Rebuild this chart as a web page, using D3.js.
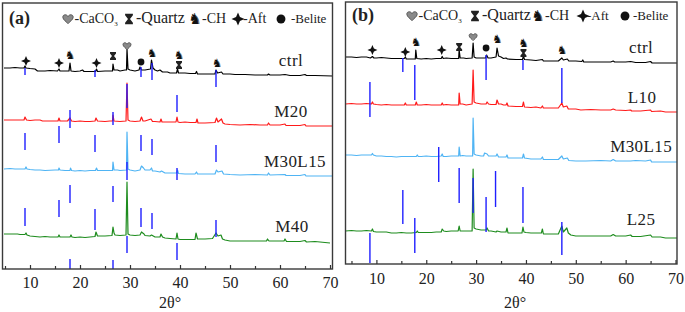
<!DOCTYPE html>
<html>
<head>
<meta charset="utf-8">
<script src="https://cdn.jsdelivr.net/npm/d3@7"></script>
<style>
body { margin: 0; background: #fff; }
svg { display: block; font-family: "Liberation Serif", "Times New Roman", serif; }
</style>
</head>
<body>
<div id="chart"></div>
<script>
// ---- data: [2theta, intensity above series offset (a.u.)] ----
const ctrlA = [[4.8,8],[6,8],[7,8.5],[8,8],[8.8,8],[9,10],[9.2,8],[10,7.5],[11,7],[11.5,5],[13,5],[14,5.5],[15.5,5],[15.8,7],[16,5],[17.8,5],[18,13],[18.2,5],[19,4.5],[20,5],[20.5,6],[20.8,4.5],[22,4.5],[23.1,4.5],[23.3,7],[23.5,4.5],[25,5],[26.5,5],[26.6,12],[26.8,6],[27.5,6],[28,5],[29,6],[29.3,6],[29.4,27],[29.6,7],[30,6],[31,5],[31.8,6],[32,9],[32.3,6],[33,6],[34.1,7],[34.3,16],[34.6,8],[35,6],[35.5,5],[36,6],[36.5,4],[37.5,4],[38,3],[39.3,3],[39.5,7],[39.7,3],[41,3],[42,2.5],[43.1,2.5],[43.3,4.5],[43.5,2],[45,2],[47,2],[47.2,6],[47.5,3],[48.3,4],[48.6,2],[50,2],[51,1.5],[53,1.5],[55,1],[57.5,1],[57.7,2],[58,1],[60,1],[61,1.5],[62,0.5],[64,0.5],[65,1.5],[65.3,0.5],[67,0.5],[70.5,0]];
const m20A = [[4.8,6],[7,6],[8.8,6],[9,9],[9.3,6],[10,5.5],[11,6],[12,6],[12.5,5],[15,5],[15.6,5],[15.8,8],[16,5],[17.5,5],[18,8],[18.3,5],[19,4.5],[20,5],[21,4.5],[22,4.5],[23,5],[23.2,8],[23.5,5],[25,4.5],[26,5],[26.5,5],[26.6,11],[26.8,5],[28,4.5],[29.2,5],[29.4,43],[29.6,6],[30,5],[31,4.5],[32,5],[32.3,9],[32.6,5],[33,5],[34.2,7],[34.5,4.5],[35,4.5],[36,4],[36.2,7],[36.4,4],[38,4],[39.2,4],[39.4,9],[39.6,4],[40,3.5],[41,4],[42,3.5],[43.2,3.5],[43.4,7],[43.6,3],[45,3],[47,3.5],[47.3,8],[47.6,4],[48.3,7],[48.6,3],[49,2],[50,1.5],[52,1],[54,1.5],[56,1],[57.5,1],[57.7,3],[58,1],[60,1],[61,2],[61.2,0.5],[64,0.5],[65,1.5],[65.2,0],[70.5,0]];
const m30l15A = [[4.8,7],[6,7.5],[7,7],[9,7],[9.2,9],[9.4,7],[10,6.5],[11,6],[12,6],[13,5.5],[15,6],[15.7,6],[15.8,8],[16,6],[17,5.5],[18,5.5],[18.1,8],[18.3,5.5],[19,5],[20,5.5],[21,5],[22,5.5],[23.1,5.5],[23.3,8],[23.5,5.5],[25,5.5],[26.5,5.5],[26.6,14],[26.8,6],[27.5,6],[28,5.5],[29.3,6],[29.4,44],[29.6,7],[30,6],[31,5],[32,6],[32.3,10],[32.7,8],[33,6],[34,6],[34.3,8],[34.5,5],[35,5],[36,4],[36.3,5],[37,3],[39.3,3],[39.5,6],[39.7,2.5],[41,2],[43,2],[43.3,4],[43.5,2],[46,2],[47,2],[47.3,6],[47.6,4],[48.4,5],[48.7,2],[50,1.5],[52,1],[55,1.5],[57.5,1],[57.7,3],[58,1],[61,1.5],[61.2,0.5],[64,0.5],[65,1.5],[65.2,0],[70.5,0]];
const m40A = [[4.8,9],[6,9],[7.5,9],[8,8.5],[9,8.5],[9.2,10],[9.4,8],[10,7],[11,6.5],[12,6],[13,6.5],[14,6],[15.6,6],[15.8,8],[16,6],[17,6],[18,6],[18.2,8],[18.4,6],[19,5.5],[20,6],[21,5.5],[22,6],[23,6.5],[23.2,11],[23.5,7],[24,7],[25,7],[26.4,7.5],[26.6,16],[26.8,10],[27,8],[28,7.5],[29.2,8],[29.4,61],[29.6,9],[30,8],[31,7.5],[32,8],[32.3,11],[32.8,9],[33,7.5],[34,7],[34.3,8],[35,6],[36,6],[36.2,9],[36.5,6],[37,5],[38,4.5],[39.2,4],[39.4,10],[39.6,4],[40,3.5],[42,3.5],[43,3.5],[43.2,10],[43.5,4],[45,4],[46.5,4.5],[47.2,10],[47.6,7],[48.2,8],[48.5,4],[49,3],[50,2],[53,2],[56,2],[57.3,2],[57.5,4],[57.8,2],[60,2],[60.8,2],[61,4],[61.3,1.5],[64,1.5],[65,2.5],[65.3,1],[67,1.5],[70,0]];

const ctrlB = [[3.8,6],[5,6],[6,5.5],[7,6],[8,6],[8.8,5],[9.2,6.5],[9.5,5],[10,5],[11,5.5],[12,5],[13,4.5],[15,4.5],[15.6,4.5],[15.8,6],[16,4],[17.8,4],[17.9,13],[18.1,4.5],[19,4],[20,4.5],[21,4],[22,4.5],[23,4.5],[23.2,6.5],[23.4,4.5],[24,5],[25,4.5],[26.5,4.5],[26.6,13],[26.8,5],[27.5,5],[28,4.5],[29.2,5],[29.4,20],[29.6,6],[30,5],[31,5],[31.9,5],[32.1,8],[32.4,5],[33,5],[34,6],[34.2,15],[34.5,7],[35,6],[35.5,4.5],[36,5],[36.3,4],[38,3.5],[39.3,3.5],[39.5,7],[39.7,3.5],[41,3],[42,2.5],[43.3,3.5],[43.5,2],[45,2],[46.5,2],[47.2,5],[47.5,3],[48.3,4],[48.6,2],[50,2],[51.2,1.5],[51.4,3],[51.6,1],[53,1],[55,1],[57,1],[57.5,2],[57.8,1],[60,1],[61,1.5],[62,0.5],[64,0.5],[65,1.5],[65.3,0],[70.3,0]];
const l10B = [[3.8,8],[5,8.5],[6,8],[7,8],[8,8.5],[9,8],[9.2,10],[9.4,8],[10,7.5],[11,7],[12,7.5],[13,7],[14,7],[15.6,7],[15.8,9],[16,7],[17,7],[17.8,7],[18,10],[18.2,7],[19,7],[20,7.5],[21,7],[22,7],[23,7],[23.2,9],[23.4,7],[24,7.5],[25,7],[26.5,7],[26.6,19],[26.8,8],[27.3,8],[28,7],[29.2,8],[29.4,42],[29.6,10],[30,9],[31,8],[32,8],[32.2,10],[32.5,8],[33,7.5],[34,7.5],[34.2,12],[34.5,8],[35,8],[35.5,7],[36,7],[36.2,9],[36.4,6],[38,5.5],[39.3,5.5],[39.5,10],[39.7,5],[41,4.5],[42,5],[43,4],[43.3,6],[43.5,4],[45,4],[46.5,4],[47.2,9],[47.5,5],[48.2,6],[48.5,3],[50,3],[51,2],[53,2.5],[55,2],[57,2],[57.5,3],[58,2],[60,1.5],[61,2],[61.2,1],[63,1],[65,2],[65.2,0.5],[67,1],[68,0],[70.3,0]];
const m30l15B = [[3.8,7],[5,7],[6,6.5],[7,7],[8,7],[9,7],[9.2,8.5],[9.4,7],[10,6],[11,6],[12,5.5],[13,5.5],[14,5],[15,5.5],[16,5.5],[17,5.5],[18,5.5],[18.2,7],[18.4,5.5],[19,5.5],[20,6],[21,5.5],[22,5.5],[23,6],[23.2,8],[23.4,5.5],[24,5.5],[25,6],[26.5,6],[26.6,15],[26.8,6],[27.3,6.5],[28,6],[29.3,6],[29.4,44],[29.6,8],[30,7],[31,6],[31.5,6],[31.7,9],[32.2,8],[32.5,6],[33,6],[34,6],[34.2,8],[34.5,5],[35,5],[36,5],[36.2,7],[36.4,4],[38,4],[39.3,4],[39.5,8],[39.7,4],[41,3],[43,3],[43.3,5],[43.5,2.5],[45,2.5],[46.5,2.5],[47.2,6],[47.5,3],[48.3,4],[48.6,1.5],[50,1],[52,1],[55,1.5],[57,1],[57.5,2.5],[58,1],[61,1],[62,1.5],[64,1],[65,2],[65.2,0],[70.3,0]];
const l25B = [[3.8,7],[5,7.5],[6,7],[7,7],[8,7.5],[9,7],[9.2,9],[9.4,6.5],[10,6],[11,6],[12,6],[13,5],[14,5],[15,5.5],[16,5],[17,5],[18,5.5],[18.2,7],[18.4,5.5],[19,5.5],[20,5.5],[21,5.5],[22,6],[23,6],[23.2,9],[23.5,7],[24,6.5],[25,7],[26.4,7],[26.6,12],[26.8,7],[27.5,7],[28,7],[29.2,7],[29.4,69],[29.6,10],[30,9],[31,8],[32,8],[32.2,10],[32.5,7],[33,7],[34,6],[34.2,7],[35,6],[36,6],[36.2,10],[36.4,5],[38,5],[39.2,5],[39.4,11],[39.6,6],[40,5.5],[41,5],[42,5],[43.1,5],[43.3,9],[43.5,4],[45,4],[46.5,4],[47.2,12],[47.5,6],[48.2,10],[48.5,5],[49,3],[50,2],[52,2],[55,2],[57,2],[57.5,3.5],[58,2],[60,2],[61,3],[61.3,1.5],[63,1.5],[65,3],[65.3,1],[67,1],[68,0],[70.3,0]];

// series names, colours, vertical offsets (a.u.) and label anchors [2theta, a.u.]
const namesA = ["ctrl", "M20", "M30L15", "M40"];
const namesB = ["ctrl", "L10", "M30L15", "L25"];
const seriesColors = ["#000000", "#ff1a1a", "#4fb4f4", "#1e8c1e"];
const offsetsA = [193, 143, 93, 26];
const offsetsB = [201, 152, 102, 26];
const labelPosA = [[62.2, 203], [62.2, 152], [63, 102], [62.4, 37]];
const labelPosB = [[63.1, 211], [63.3, 161], [63.1, 112], [63.1, 39]];

// blue reference ticks: [2theta, top a.u., bottom a.u.]
const refLinesA = [[9.0,201,194],[23.0,199,192],[32.2,202,192],[34.4,206,189],[47.2,199,182],[29.4,185,161],[39.4,174,157],[18.0,159,141],[26.6,157,144],[9.0,136,119],[15.8,143,126],[23.0,134,117],[32.2,134,118],[34.4,130,114],[47.2,124,107],[29.4,107,89],[39.4,101,89],[18.0,84,66],[26.6,83,67],[15.8,69,52],[9.0,61,43],[23.0,60,39],[32.2,61,42],[34.4,56,40],[47.2,49,32],[29.4,33,16],[39.4,26,9],[18.0,10,0],[26.6,9,0]];
const refLinesB = [[15.3,206,192],[32.0,209,184],[39.4,204,194],[17.7,199,164],[47.2,196,161],[8.7,182,147],[22.5,117,82],[26.6,96,61],[29.4,86,51],[33.9,93,57],[39.4,77,41],[15.3,74,40],[32.0,67,32],[8.7,31,1],[17.7,46,11],[47.2,42,9]];

// phase markers above ctrl: [type, 2theta, a.u.]
const phaseMarksA = [["aft",9.2,208],["aft",15.8,206],["ch",18.0,214],["aft",23.3,206],["quartz",26.6,213],["caco3",29.4,223],["belite",32.2,207],["ch",34.4,216],["ch",39.8,214],["quartz",39.8,204],["ch",47.4,206]];
const phaseMarksB = [["aft",9.2,214],["aft",15.8,212],["ch",17.9,222],["aft",23.1,214],["quartz",26.6,217],["caco3",29.4,227],["belite",32.0,216],["ch",34.2,225],["ch",39.5,221],["quartz",39.5,211],["ch",47.2,214]];

const legendTypes = ["caco3", "quartz", "ch", "aft", "belite"];
const legendTexts = ["-CaCO", "-Quartz", "-CH", "-Aft", "-Belite"];
const majorTicks = [10, 20, 30, 40, 50, 60, 70];
const minorTicks = [5, 15, 25, 35, 45, 55, 65];

// ---- drawing ----
const W = 685, H = 312;
const FONT = "Liberation Serif, Times New Roman, serif";
const svg = d3.select("#chart").append("svg").attr("width", W).attr("height", H)
    .attr("font-family", FONT);

function heartPath(s) {
    return `M0,${s*0.9} C${-s*0.2},${s*0.6} ${-s},${s*0.15} ${-s},${-s*0.35} C${-s},${-s*0.95} ${-s*0.2},${-s*0.95} 0,${-s*0.45} C${s*0.2},${-s*0.95} ${s},${-s*0.95} ${s},${-s*0.35} C${s},${s*0.15} ${s*0.2},${s*0.6} 0,${s*0.9}Z`;
}
function starPath(s) {
    const i = s * 0.3;
    return `M0,${-s} L${i},${-i} L${s},0 L${i},${i} L0,${s} L${-i},${i} L${-s},0 L${-i},${-i}Z`;
}
function quartzPath(w, h) {
    return `M${-w},${-h} H${w} V${-h+1.5} L1,0 L${w},${h-1.5} V${h} H${-w} V${h-1.5} L-1,0 L${-w},${-h+1.5}Z`;
}

// draw one phase symbol at (x, y), k = scale factor
function drawSymbol(g, type, x, y, k) {
    const t = g.append("g").attr("transform", `translate(${x},${y})`);
    if (type === "caco3") {
        t.append("path").attr("d", heartPath(4 * k)).attr("fill", "#8a8a8a").attr("stroke", "#555").attr("stroke-width", 0.9);
    } else if (type === "quartz") {
        t.append("path").attr("d", quartzPath(3 * k, 4 * k)).attr("fill", "#222");
    } else if (type === "ch") {
        t.append("text").attr("text-anchor", "middle").attr("dy", "0.36em")
            .attr("font-family", "DejaVu Sans").style("font-size", (11.5 * k) + "px")
            .attr("fill", "#111").text("\u265E");
    } else if (type === "aft") {
        t.append("path").attr("d", starPath(5 * k)).attr("fill", "#111");
    } else if (type === "belite") {
        t.append("circle").attr("r", 3.4 * k).attr("fill", "#111");
    }
}

function drawPanel(p) {
    const x = d3.scaleLinear().domain(p.xDomain).range([p.left, p.right]);
    const y = d3.scaleLinear().domain([0, p.top0]).range([p.bottom, p.top]);
    const g = svg.append("g");

    // diffraction patterns
    const line = d3.line().x(d => x(d[0])).y(d => y(d[1]));
    p.series.forEach((s, i) => {
        g.append("path")
            .datum(s.map(d => [d[0], d[1] + p.offsets[i]]))
            .attr("d", line)
            .attr("fill", "none")
            .attr("stroke", seriesColors[i])
            .attr("stroke-width", 1.2)
            .attr("stroke-linejoin", "round");
    });

    // blue reference ticks
    g.selectAll(".ref")
        .data(p.refs)
        .join("line")
        .attr("x1", d => x(d[0])).attr("x2", d => x(d[0]))
        .attr("y1", d => y(d[1])).attr("y2", d => y(d[2]))
        .attr("stroke", "#1f1fff")
        .attr("stroke-width", 1.4);

    // series labels
    p.names.forEach((n, i) => {
        g.append("text")
            .attr("x", x(p.labelPos[i][0])).attr("y", y(p.labelPos[i][1]))
            .attr("text-anchor", "middle")
            .style("font-size", "17px")
            .style("letter-spacing", "0.4px")
            .attr("fill", "#222")
            .text(n);
    });

    // phase markers
    p.marks.forEach(m => drawSymbol(g, m[0], x(m[1]), y(m[2]), 1));

    // frame
    g.append("rect")
        .attr("x", p.left).attr("y", p.top)
        .attr("width", p.right - p.left).attr("height", p.bottom - p.top)
        .attr("fill", "none").attr("stroke", "#3a3a3a").attr("stroke-width", 1.4);

    // axes (ticks point inward)
    const ax = g.append("g").attr("transform", `translate(0,${p.bottom})`)
        .call(d3.axisBottom(x).tickValues(majorTicks).tickSize(-4).tickSizeOuter(0).tickPadding(p.pad))
        .attr("font-family", FONT).attr("font-size", 16);
    ax.select(".domain").remove();
    ax.selectAll("text").attr("fill", "#222");
    ax.selectAll("line").attr("stroke", "#333").attr("stroke-width", 1.2);
    const mx = g.append("g").attr("transform", `translate(0,${p.bottom})`)
        .call(d3.axisBottom(x).tickValues(minorTicks).tickSize(-3).tickSizeOuter(0).tickFormat(""));
    mx.select(".domain").remove();
    mx.selectAll("line").attr("stroke", "#333").attr("stroke-width", 1.2);

    g.append("text")
        .attr("x", p.titleX).attr("y", 308)
        .attr("text-anchor", "middle")
        .style("font-size", "16px")
        .attr("fill", "#222")
        .text("2\u03B8\u00B0");

    // panel tag
    g.append("text")
        .attr("x", p.tagX).attr("y", p.tagY)
        .style("font-size", "18px").style("font-weight", "bold")
        .attr("fill", "#222")
        .text(p.tag);

    // legend
    legendTypes.forEach((t, i) => {
        const sx = p.legendX[i];
        drawSymbol(g, t, sx, p.legendY - 4, 1.3);
        const tx = g.append("text")
            .attr("x", sx + p.legendGap[i]).attr("y", p.legendY)
            .style("font-size", p.legendSize[i] + "px")
            .attr("fill", "#222")
            .text(legendTexts[i]);
        if (t === "caco3") {
            tx.append("tspan").attr("dy", 3).style("font-size", "7px").text("3");
        }
    });
}

drawPanel({
    tag: "(a)", tagX: 9, tagY: 24,
    xDomain: [4.5, 70.5], left: 2.5, right: 332.5, top: 3, bottom: 269, top0: 266,
    series: [ctrlA, m20A, m30l15A, m40A], offsets: offsetsA, names: namesA, labelPos: labelPosA,
    refs: refLinesA, marks: phaseMarksA, pad: 8, titleX: 170,
    legendX: [68, 129, 195, 238, 281], legendGap: [6.5, 7, 7, 5, 10], legendSize: [14, 16, 14, 14, 13], legendY: 23
});
drawPanel({
    tag: "(b)", tagX: 352, tagY: 21,
    xDomain: [3.8, 70.3], left: 345.5, right: 677, top: 2, bottom: 264, top0: 262,
    series: [ctrlB, l10B, m30l15B, l25B], offsets: offsetsB, names: namesB, labelPos: labelPosB,
    refs: refLinesB, marks: phaseMarksB, pad: 9, titleX: 515,
    legendX: [412, 475, 538, 583, 625], legendGap: [6.5, 7, 7, 4, 8], legendSize: [14, 16, 14, 13, 13], legendY: 20
});
</script>
</body>
</html>
